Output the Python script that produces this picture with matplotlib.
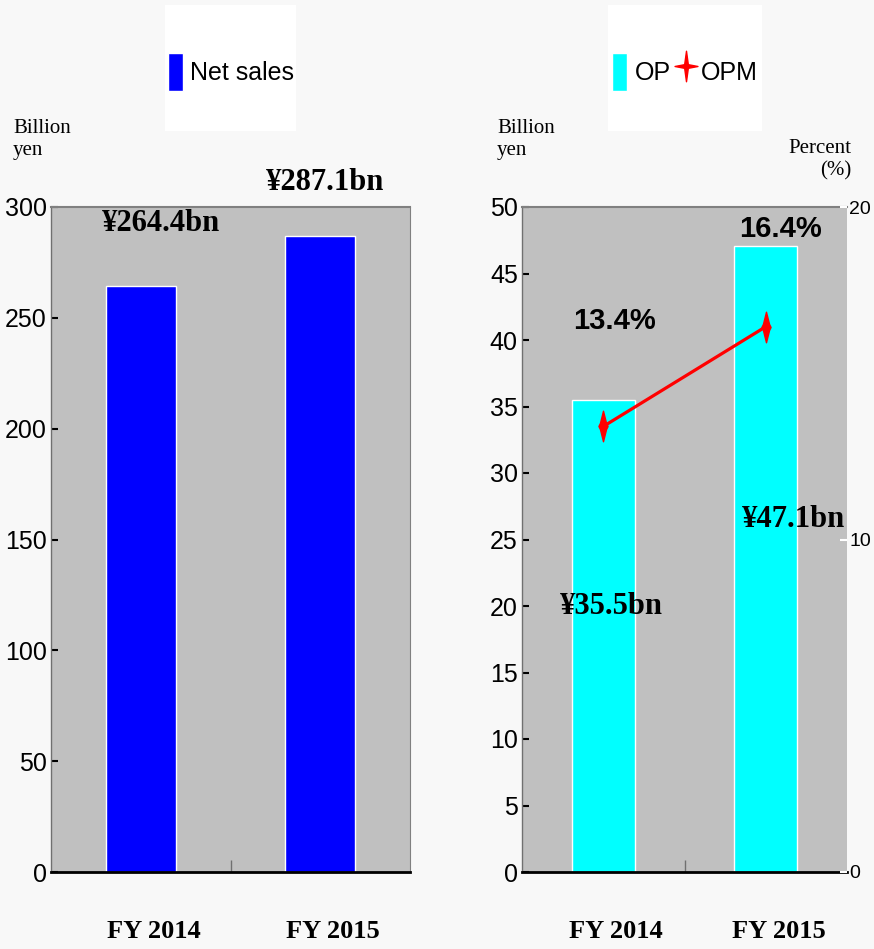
import numpy as np
import matplotlib
matplotlib.use("Agg")
import matplotlib.pyplot as plt
from matplotlib.path import Path
from matplotlib.lines import Line2D
from matplotlib.patches import Patch, Rectangle
from matplotlib import transforms

# data
years = ["FY 2014", "FY 2015"]
net_sales = [264.4, 287.1]
op = [35.5, 47.1]
opm = [13.4, 16.4]
sales_labels = ["¥264.4bn", "¥287.1bn"]
op_labels = ["¥35.5bn", "¥47.1bn"]
opm_labels = ["13.4%", "16.4%"]

W, H = 874, 949
BG = "#f8f8f8"
GRAY = "#c0c0c0"
SANS = ["Liberation Sans", "DejaVu Sans"]
SERIF = ["Liberation Serif", "DejaVu Serif"]


def px(x0, y0, x1, y1):
    # pixel box -> figure fraction rect
    return [x0 / W, 1 - y1 / H, (x1 - x0) / W, (y1 - y0) / H]


def star(wx, w=0.12):
    # four pointed star, tall
    verts = [(0, 1), (w, w), (wx, 0), (w, -w), (0, -1), (-w, -w), (-wx, 0), (-w, w), (0, 1)]
    return Path(verts, [Path.MOVETO] + [Path.LINETO] * 7 + [Path.CLOSEPOLY])


fig = plt.figure(figsize=(W / 100, H / 100), dpi=100, facecolor=BG)
x = np.arange(len(years))


def style_axes(ax):
    ax.set_facecolor(GRAY)
    ax.set_xlim(-0.5, 1.5)
    ax.spines["top"].set_color("#808080")
    ax.spines["top"].set_linewidth(1.5)
    ax.spines["left"].set_color("#707070")
    ax.spines["left"].set_linewidth(1)
    ax.spines["right"].set_visible(False)
    ax.spines["bottom"].set_color("black")
    ax.spines["bottom"].set_linewidth(2)
    ax.set_xticks(x)
    ax.set_xticklabels([])
    ax.tick_params(axis="x", which="major", length=0)
    ax.set_xticks([0.5], minor=True)
    ax.tick_params(axis="x", which="minor", direction="in", length=9, color="#707070", width=1)
    ax.tick_params(axis="y", direction="in", length=5, width=1.5, color="black",
                   labelsize=18, pad=3)
    for lab in ax.get_yticklabels():
        lab.set_family(SANS)
    off = transforms.offset_copy(ax.get_xaxis_transform(), fig=fig, x=13, y=0, units="dots")
    for xi, name in zip(x, years):
        ax.text(xi, -0.09, name, transform=off, ha="center", va="center",
                fontsize=19, fontweight="bold", family=SERIF)


# ---- left: net sales
ax1 = fig.add_axes(px(51, 207, 410, 872))
b1 = ax1.bar(x, net_sales, width=0.39, color="#0000ff", edgecolor="white", linewidth=1, zorder=2)
ax1.set_ylim(0, 300)
ax1.set_yticks(np.arange(0, 301, 50))
style_axes(ax1)
ax1.spines["right"].set_visible(True)
ax1.spines["right"].set_color("#808080")
for xi, v, lab, (dx, dy) in zip(x, net_sales, sales_labels, [(20, 62), (5, 53)]):
    ax1.annotate(lab, (xi, v), xytext=(dx, dy), textcoords="offset pixels",
                 ha="center", va="center", fontsize=22, fontweight="bold",
                 family=SERIF, annotation_clip=False)

# ---- right: OP + OPM
ax2 = fig.add_axes(px(522, 207, 847, 872))
b2 = ax2.bar(x, op, width=0.39, color="#00ffff", edgecolor="white", linewidth=1, zorder=2)
ax2.set_ylim(0, 50)
ax2.set_yticks(np.arange(0, 51, 5))
style_axes(ax2)
for xi, v, lab, (dx, dy) in zip(x, op, op_labels, [(8, -207), (28, -274)]):
    ax2.annotate(lab, (xi, v), xytext=(dx, dy), textcoords="offset pixels",
                 ha="center", va="center", fontsize=22, fontweight="bold",
                 family=SERIF, annotation_clip=False)

ax2r = ax2.twinx()
ax2r.set_ylim(0, 20)
ax2r.set_yticks([0, 10, 20])
for s in ax2r.spines.values():
    s.set_visible(False)
ax2r.tick_params(axis="y", direction="in", length=5, width=1.5, color="white",
                 labelsize=14, pad=1.5)
for lab in ax2r.get_yticklabels():
    lab.set_family(SANS)
ax2r.plot(x, opm, color="#ff0000", lw=2.3, marker=star(0.3, 0.2), markersize=22,
          markerfacecolor="#ff0000", markeredgecolor="#ff0000", zorder=3)
for xi, v, lab, (dx, dy) in zip(x, opm, opm_labels, [(11, 105), (15, 98)]):
    ax2r.annotate(lab, (xi, v), xytext=(dx, dy), textcoords="offset pixels",
                  ha="center", va="center", fontsize=21, fontweight="bold",
                  family=SANS)

# ---- unit labels
fig.text(13 / W, 1 - 119 / H, "Billion\nyen", ha="left", va="top", fontsize=15,
         family=SERIF, linespacing=1.25)
fig.text(497 / W, 1 - 119 / H, "Billion\nyen", ha="left", va="top", fontsize=15,
         family=SERIF, linespacing=1.25)
fig.text(851 / W, 1 - 139 / H, "Percent\n(%)", ha="right", va="top", fontsize=15,
         family=SERIF, linespacing=1.25, multialignment="right")

# ---- legends (white boxes behind)
for box in [(165, 5, 296, 131), (608, 5, 762, 131)]:
    fig.patches.append(Rectangle((box[0] / W, 1 - box[3] / H), (box[2] - box[0]) / W,
                                 (box[3] - box[1]) / H, transform=fig.transFigure,
                                 facecolor="white", edgecolor="none", zorder=0))
leg_kw = dict(frameon=False, borderpad=0, handlelength=0.6, handleheight=2.0,
              handletextpad=0.3, columnspacing=0.3, prop={"family": SANS, "size": 18})
fig.legend([Patch(facecolor="#0000ff", edgecolor="white")], ["Net sales"],
           loc="center", bbox_to_anchor=(231 / W, 1 - 72 / H), **leg_kw)
fig.legend([Patch(facecolor="#00ffff", edgecolor="white"),
            Line2D([], [], ls="none", marker=star(0.75), markersize=22, color="#ff0000")],
           ["OP", "OPM"], ncol=2,
           loc="center", bbox_to_anchor=(685 / W, 1 - 72 / H), **leg_kw)

fig.savefig("out.png", dpi=100, facecolor=BG)
